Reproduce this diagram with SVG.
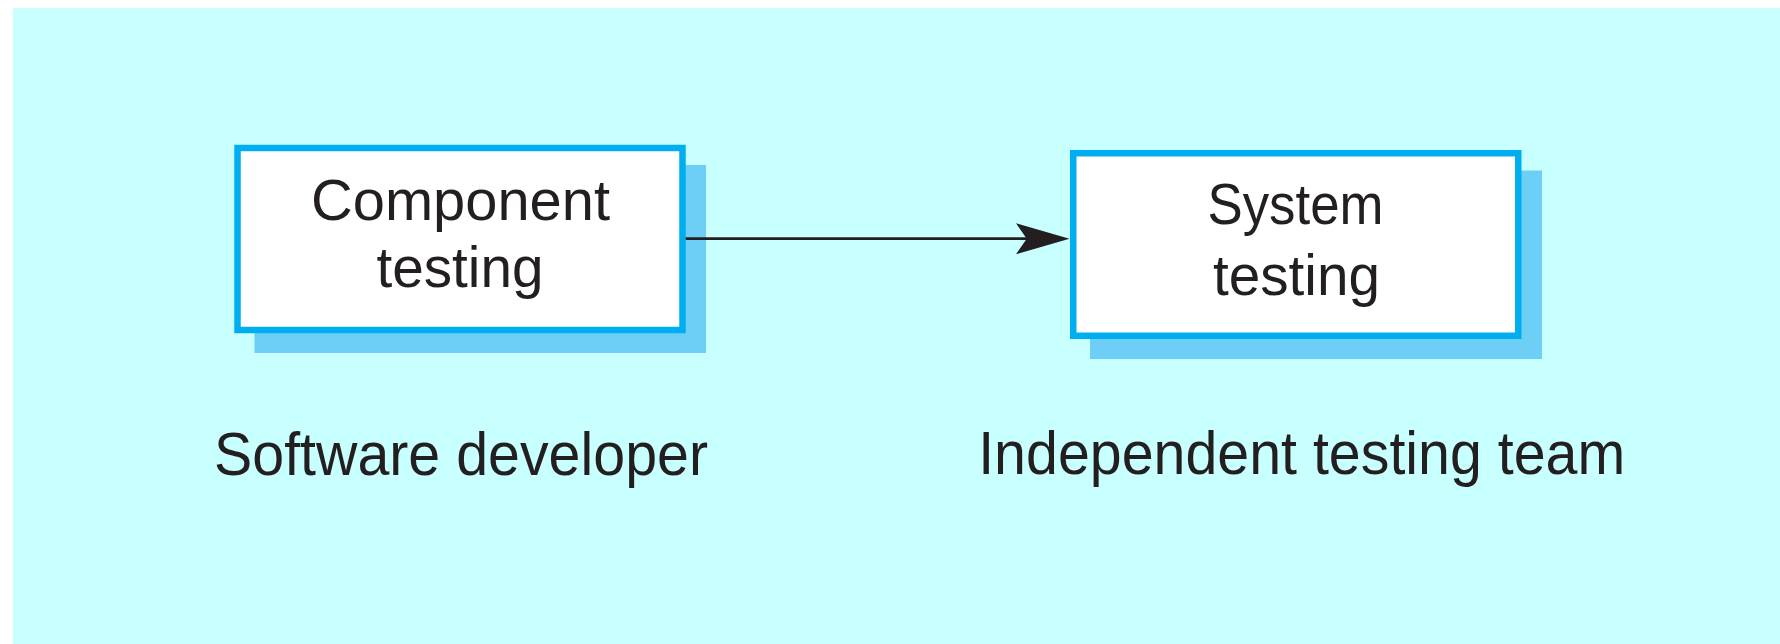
<svg xmlns="http://www.w3.org/2000/svg" width="1780" height="644" viewBox="0 0 1780 644">
  <style>
    .shadow { fill: #6dcff6; }
    .box { fill: #ffffff; stroke: #00aeef; stroke-width: 6.5; }
    .label { font-family: "Liberation Sans", Arial, sans-serif; fill: #231f20; text-anchor: middle; }
    .in { font-size: 57px; }
    .role { font-size: 61px; }
    .flow { stroke: #231f20; stroke-width: 2.7; fill: none; }
  </style>
  <defs>
    <marker id="head" markerUnits="userSpaceOnUse" markerWidth="60" markerHeight="40" refX="14" refY="15.5" orient="auto">
      <path d="M0,0 L53.5,15.5 L0,31 L10.7,15.5 Z" fill="#231f20"/>
    </marker>
  </defs>

  <!-- page background -->
  <rect x="13" y="8" width="1767" height="636" fill="#c8ffff"/>

  <!-- component testing stage -->
  <g id="component-testing">
    <rect class="shadow" x="254.5" y="165" width="451.5" height="188"/>
    <rect class="box" x="237.5" y="148" width="445" height="182"/>
    <text class="label in" x="460.5" y="220" textLength="299" lengthAdjust="spacingAndGlyphs">Component</text>
    <text class="label in" x="460" y="287" textLength="167" lengthAdjust="spacingAndGlyphs">testing</text>
  </g>

  <!-- system testing stage -->
  <g id="system-testing">
    <rect class="shadow" x="1090" y="170.5" width="452" height="188.5"/>
    <rect class="box" x="1073.25" y="153.25" width="445" height="182.5"/>
    <text class="label in" x="1295.5" y="224" textLength="176" lengthAdjust="spacingAndGlyphs">System</text>
    <text class="label in" x="1296.5" y="295" textLength="167" lengthAdjust="spacingAndGlyphs">testing</text>
  </g>

  <!-- who performs each stage -->
  <g id="software-developer">
    <text class="label role" x="461" y="475" textLength="494" lengthAdjust="spacingAndGlyphs">Software developer</text>
  </g>
  <g id="independent-testing-team">
    <text class="label role" x="1301.7" y="474" textLength="647" lengthAdjust="spacingAndGlyphs">Independent testing team</text>
  </g>

  <!-- connectors -->
  <g id="connectors">
    <line class="flow" x1="685.7" y1="238.7" x2="1030" y2="238.7" marker-end="url(#head)"/>
  </g>
</svg>
